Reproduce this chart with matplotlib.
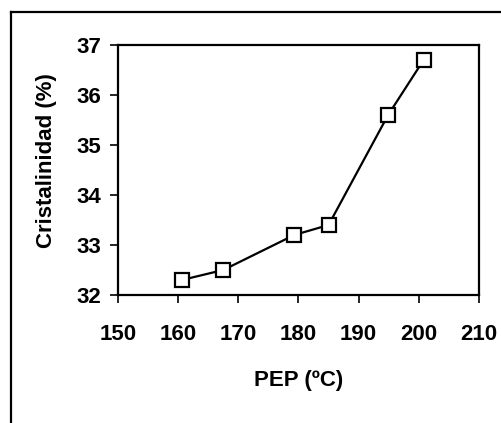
"""
Cristalinidad frente a PEP: reproduce the single line chart.
"""

import matplotlib
matplotlib.use("Agg")
import matplotlib.pyplot as plt
from matplotlib.lines import Line2D


# ------------------------------------------------------------
# Data
# ------------------------------------------------------------

PEP = [160.6, 167.5, 179.3, 185.0, 194.9, 200.8]
CRISTALINIDAD = [32.3, 32.5, 33.2, 33.4, 35.6, 36.7]

X_TICKS = [150, 160, 170, 180, 190, 200, 210]
Y_TICKS = [32, 33, 34, 35, 36, 37]

X_LABEL = "PEP (ºC)"
Y_LABEL = "Cristalinidad (%)"


# ------------------------------------------------------------
# Figure
# ------------------------------------------------------------

plt.rcParams["font.family"] = ["Liberation Sans", "DejaVu Sans"]
plt.rcParams["font.weight"] = "bold"

fig = plt.figure(figsize=(5.01, 4.23), dpi=100)
ax = fig.add_axes([0.2355, 0.3026, 0.7205, 0.591])

ax.plot(PEP, CRISTALINIDAD, color="black", linewidth=1.6,
        marker="s", markersize=10, markerfacecolor="white",
        markeredgecolor="black", markeredgewidth=1.6)

ax.set_xlim(150, 210)
ax.set_ylim(32, 37)
ax.set_xticks(X_TICKS)
ax.set_yticks(Y_TICKS)

for spine in ax.spines.values():
    spine.set_linewidth(1.6)

ax.tick_params(axis="both", direction="out", length=6, width=1.2,
               labelsize=16)
ax.tick_params(axis="x", pad=15)
ax.tick_params(axis="y", pad=6)

ax.set_xlabel(X_LABEL, fontsize=16, fontweight="bold", labelpad=18)
ax.set_ylabel(Y_LABEL, fontsize=16, fontweight="bold")
ax.yaxis.set_label_coords(-0.168, 0.536)

# outer frame (left and top edges only, like the original chart area)
fig.add_artist(Line2D([11 / 501, 11 / 501], [0, 1 - 12 / 423],
                      transform=fig.transFigure, color="black", linewidth=1.6))
fig.add_artist(Line2D([11 / 501, 1], [1 - 12 / 423, 1 - 12 / 423],
                      transform=fig.transFigure, color="black", linewidth=1.6))

fig.savefig("out.png", dpi=100)
